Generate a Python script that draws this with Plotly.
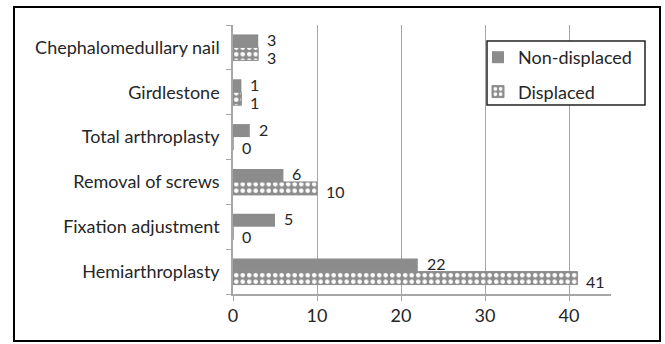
import plotly.graph_objects as go

categories = ["Hemiarthroplasty", "Fixation adjustment", "Removal of screws",
              "Total arthroplasty", "Girdlestone", "Chephalomedullary nail"]
non_displaced = [22, 5, 6, 2, 1, 3]
displaced = [41, 0, 10, 0, 1, 3]
x_ticks = [0, 10, 20, 30, 40]

GRAY = "#8c8c8c"
FONT = "Lato"
TXT = "#262626"
FS = 18

L, R, T, B = 233, 54, 25, 50
W, H = 665, 344
pw, ph = W - L - R, H - T - B

def px(x):
    return (x - L) / pw

def py(y):
    return (H - B - y) / ph

fig = go.Figure()
fig.add_trace(go.Bar(
    y=categories, x=displaced, orientation="h", name="Displaced",
    legendgroup="d", legendrank=2,
    marker=dict(color=GRAY, line=dict(color=GRAY, width=1),
                pattern=dict(shape=".", bgcolor=GRAY, fgcolor="white",
                             size=6.5, solidity=0.4, fillmode="replace")),
    hoverinfo="skip",
))
fig.add_trace(go.Bar(
    y=categories, x=non_displaced, orientation="h", name="Non-displaced",
    legendgroup="n", legendrank=1,
    marker=dict(color=GRAY, line=dict(width=0)),
    hoverinfo="skip",
))

# data labels placed through the axes, offset to each bar of the group
annotations = []
for cat, v in zip(categories, non_displaced):
    annotations.append(dict(x=v, y=cat, xref="x", yref="y", text=str(v),
                            showarrow=False, xanchor="left", yanchor="middle",
                            xshift=8, yshift=8, borderpad=0,
                            font=dict(family=FONT, size=16, color=TXT)))
for cat, v in zip(categories, displaced):
    annotations.append(dict(x=v, y=cat, xref="x", yref="y", text=str(v),
                            showarrow=False, xanchor="left", yanchor="middle",
                            xshift=8, yshift=-10, borderpad=0,
                            font=dict(family=FONT, size=16, color=TXT)))

fig.update_layout(
    width=W, height=H,
    margin=dict(l=L, r=R, t=T, b=B),
    paper_bgcolor="white", plot_bgcolor="white",
    barmode="group", bargap=0.42, bargroupgap=0,
    font=dict(family=FONT, size=FS, color=TXT),
    showlegend=True,
    legend=dict(x=px(478), y=py(39), xanchor="left", yanchor="top",
                borderwidth=0, bgcolor="rgba(0,0,0,0)",
                font=dict(family=FONT, size=FS, color=TXT),
                traceorder="grouped", tracegroupgap=8,
                itemwidth=30),
    xaxis=dict(range=[0, 45], tickvals=x_ticks, showgrid=True,
               gridcolor="#a6a6a6", gridwidth=1, zeroline=False,
               showline=True, linecolor="#a6a6a6", linewidth=1.5,
               ticks="outside", ticklen=5, tickcolor="#a6a6a6",
               tickfont=dict(family=FONT, size=FS, color=TXT)),
    yaxis=dict(categoryorder="array", categoryarray=categories,
               range=[-0.5, 5.5], showgrid=False, zeroline=False,
               showline=True, linecolor="#a6a6a6", linewidth=1.5,
               ticks="outside", ticklen=5, tickcolor="#a6a6a6",
               tickson="boundaries", ticklabelstandoff=8,
               tickfont=dict(family=FONT, size=FS, color=TXT)),
    annotations=annotations,
    shapes=[
        dict(type="rect", xref="paper", yref="paper",
             x0=px(14), x1=px(660), y0=py(341), y1=py(7),
             line=dict(color="black", width=2), layer="below"),
        dict(type="rect", xref="paper", yref="paper",
             x0=px(487), x1=px(645), y0=py(105), y1=py(41),
             line=dict(color="#222", width=1.5), fillcolor="white",
             layer="above"),
    ],
)

fig.write_html("out.html", config={"displayModeBar": False},
               post_script="document.body.style.margin='0';document.body.style.overflow='hidden';")
